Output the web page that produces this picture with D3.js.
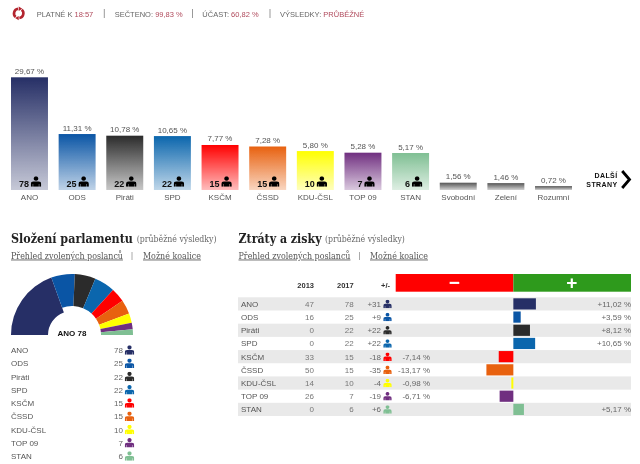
<!DOCTYPE html>
<meta charset="utf-8">
<title>Volby 2017</title>
<script src="https://d3js.org/d3.v7.min.js"></script>
<style>
  body { margin: 0; background: #fff; }
  svg { filter: blur(0.3px); }
  text { font-family: "Liberation Sans", Arial, sans-serif; }
  .serif { font-family: "DejaVu Serif", serif; }
</style>
<div id="my_dataviz"></div>
<script>

// election results
const parties = ["ANO", "ODS", "Piráti", "SPD", "KSČM", "ČSSD", "KDU-ČSL", "TOP 09", "STAN", "Svobodní", "Zelení", "Rozumní"];
const percents = [29.67, 11.31, 10.78, 10.65, 7.77, 7.28, 5.80, 5.28, 5.17, 1.56, 1.46, 0.72];
const seats = [78, 25, 22, 22, 15, 15, 10, 7, 6, 0, 0, 0];

// losses and gains table
const seats2013 = [47, 16, 0, 0, 33, 50, 14, 26, 0];
const seatChange = [31, 9, 22, 22, -18, -35, -4, -19, 6];
const voteChange = [11.02, 3.59, 8.12, 10.65, -7.14, -13.17, -0.98, -6.71, 5.17];

const colors = ["#262f66", "#0a55a5", "#2b2b2b", "#0b66ad", "#ff0000", "#e8610f", "#ffff00", "#702f80", "#7fbf93", "#555555", "#555555", "#555555"];

const fmt = v => v.toFixed(2).replace(".", ",");
const signed = v => (v > 0 ? "+" : "") + fmt(v) + " %";

const svg = d3.select("#my_dataviz")
  .append("svg")
    .attr("width", 640)
    .attr("height", 464)
    .style("display", "block");

const defs = svg.append("defs");

// little person icon used everywhere
defs.append("symbol")
    .attr("id", "person")
    .attr("viewBox", "0 0 10 10")
  .append("path")
    .attr("d", "M5,0a2.2,2.2 0 1,0 0.01,0z M2.4,4.9h5.2q2.4,0 2.4,2.2v2.9h-1.9v-2.6h-0.4v2.6h-5.4v-2.6h-0.4v2.6h-1.9v-2.9q0,-2.2 2.4,-2.2z");

function person(g, x, y, size, color) {
  g.append("use")
    .attr("href", "#person")
    .attr("x", x - size / 2)
    .attr("y", y - size / 2)
    .attr("width", size)
    .attr("height", size)
    .attr("fill", color);
}

// ---- top strip
const strip = svg.append("g");
const red = "#b04a5c";
const stripItems = [
  {x: 36.7, label: "PLATNÉ K ", value: "18:57"},
  {x: 114.7, label: "SEČTENO: ", value: "99,83 %"},
  {x: 202.3, label: "ÚČAST: ", value: "60,82 %"},
  {x: 280, label: "VÝSLEDKY: ", value: "PRŮBĚŽNÉ"}
];
stripItems.forEach(d => {
  const t = strip.append("text").attr("x", d.x).attr("y", 16.5).attr("font-size", 7.5).attr("fill", "#666");
  t.append("tspan").text(d.label);
  t.append("tspan").attr("fill", red).text(d.value);
});
[104.3, 192.5, 270].forEach(x => {
  strip.append("line").attr("x1", x).attr("x2", x).attr("y1", 9).attr("y2", 18).attr("stroke", "#999");
});

// refresh icon
const refresh = svg.append("g").attr("transform", "translate(18.7,13.4)");
const refreshArc = d3.arc().innerRadius(3.4).outerRadius(6);
[[0.7, 3.0], [3.85, 6.15]].forEach(a => {
  refresh.append("path")
    .attr("d", refreshArc({startAngle: a[0], endAngle: a[1]}))
    .attr("fill", "#b3242f");
});
refresh.append("path").attr("d", "M0,-6.9L0,-2.5L3.6,-4.7Z").attr("fill", "#b3242f");
refresh.append("path").attr("d", "M0,6.9L0,2.5L-3.6,4.7Z").attr("fill", "#b3242f");

// ---- bars
const baseline = 190;
const x = d3.scaleBand()
  .domain(parties)
  .range([11, 572])
  .paddingInner(0.224)
  .paddingOuter(0);
// parties with seats get a minimum height so the icon fits, the others are on their own scale
const hSeated = d3.scaleLinear().domain([0, 29.67]).range([21, 112.7]);
const hSmall = d3.scaleLinear().domain([0, 1.56]).range([1, 7.3]);
const barH = i => seats[i] > 0 ? hSeated(percents[i]) : hSmall(percents[i]);

parties.forEach((p, i) => {
  const g = defs.append("linearGradient")
    .attr("id", "grad" + i)
    .attr("x1", 0).attr("x2", 0).attr("y1", 0).attr("y2", 1);
  g.append("stop").attr("offset", "0%").attr("stop-color", colors[i]);
  g.append("stop").attr("offset", "100%").attr("stop-color", colors[i]).attr("stop-opacity", 0.26);
});

const bars = svg.append("g");
parties.forEach((p, i) => {
  const h = barH(i);
  const left = x(p);
  const mid = left + x.bandwidth() / 2;
  bars.append("rect")
    .attr("x", left)
    .attr("y", baseline - h)
    .attr("width", x.bandwidth())
    .attr("height", h)
    .attr("fill", `url(#grad${i})`);
  bars.append("text")
    .attr("x", mid)
    .attr("y", baseline - h - 3.5)
    .attr("text-anchor", "middle")
    .attr("font-size", 8)
    .attr("fill", "#555")
    .text(fmt(percents[i]) + " %");
  bars.append("text")
    .attr("x", mid)
    .attr("y", 199.5)
    .attr("text-anchor", "middle")
    .attr("font-size", 8)
    .attr("fill", "#555")
    .text(p);
  if (seats[i] > 0) {
    bars.append("text")
      .attr("x", left + 18)
      .attr("y", 187)
      .attr("text-anchor", "end")
      .attr("font-size", 9)
      .attr("font-weight", "bold")
      .attr("fill", "#111")
      .text(seats[i]);
    person(bars, left + 25, 181.5, 10.5, "#000");
  }
});

// next parties link
const more = svg.append("g");
["DALŠÍ", "STRANY"].forEach((s, i) => {
  more.append("text")
    .attr("x", 617.5)
    .attr("y", 177.5 + i * 9.5)
    .attr("text-anchor", "end")
    .attr("font-size", 7)
    .attr("font-weight", "bold")
    .attr("letter-spacing", 0.4)
    .attr("fill", "#111")
    .text(s);
});
more.append("path")
  .attr("d", "M622.2,171L629.5,179.5L622.2,188")
  .attr("fill", "none")
  .attr("stroke", "#000")
  .attr("stroke-width", 2.8);

// ---- section headings
// DejaVu Serif is wider than the original face, so squeeze it to the width seen in the picture
function squeezed(g, left, y, size, color, len, str) {
  const t = g.append("text").attr("class", "serif")
    .attr("font-size", size).attr("fill", color)
    .text(str);
  const w = t.node().getComputedTextLength();
  t.attr("transform", `translate(${left},${y}) scale(${len / w},1)`);
  return t;
}
function heading(left, title, titleLen, noteX, sepX, link2X) {
  const g = svg.append("g");
  squeezed(g, left, 242.5, 13.5, "#222", titleLen, title).attr("font-weight", "bold");
  // bold changes the width, so measure again
  const head = g.select("text");
  head.attr("transform", `translate(${left},242.5) scale(${titleLen / head.node().getComputedTextLength()},1)`);
  squeezed(g, noteX, 242, 8.5, "#666", 80, "(průběžné výsledky)");
  squeezed(g, left, 258.5, 8.5, "#555", 112, "Přehled zvolených poslanců").attr("text-decoration", "underline");
  g.append("line")
    .attr("x1", sepX).attr("x2", sepX).attr("y1", 252).attr("y2", 260)
    .attr("stroke", "#aaa");
  squeezed(g, link2X, 258.5, 8.5, "#555", 58, "Možné koalice").attr("text-decoration", "underline");
}
heading(11, "Složení parlamentu", 122, 136.7, 132, 143);
heading(238.5, "Ztráty a zisky", 83, 325, 359.5, 370);

// ---- parliament half donut
const seated = parties.slice(0, 9);
const pie = d3.pie()
  .sort(null)
  .startAngle(-Math.PI / 2)
  .endAngle(Math.PI / 2)
  .value(i => seats[i]);
const arc = d3.arc()
  .outerRadius(61)
  .innerRadius(d => d.data === 0 ? 24 : 29);
const donut = svg.append("g").attr("transform", "translate(72,335)");
donut.selectAll("path")
  .data(pie(d3.range(seated.length)))
  .join("path")
    .attr("d", arc)
    .attr("fill", d => colors[d.data]);
donut.append("text")
  .attr("y", 0.5)
  .attr("text-anchor", "middle")
  .attr("font-size", 8)
  .attr("font-weight", "bold")
  .attr("fill", "#111")
  .text(parties[0] + " " + seats[0]);

// list under the donut
const listY = d3.scalePoint().domain(seated).range([350, 456]);
const list = svg.append("g");
seated.forEach((p, i) => {
  const y = listY(p);
  list.append("text").attr("x", 11).attr("y", y + 3).attr("font-size", 8).attr("fill", "#555").text(p);
  list.append("text").attr("x", 123).attr("y", y + 3).attr("text-anchor", "end").attr("font-size", 8).attr("fill", "#666").text(seats[i]);
  person(list, 129.5, y, 9.5, colors[i]);
});

// ---- losses and gains
const zero = d3.scaleLinear().domain([-57.5, 57.5]).range([395.7, 631]);
const rowY = d3.scaleBand().domain(seated).range([297.3, 416]);
const table = svg.append("g");

table.append("rect").attr("x", zero(-57.5)).attr("y", 274).attr("width", zero(0) - zero(-57.5)).attr("height", 17.7).attr("fill", "#ff0000");
table.append("rect").attr("x", zero(0)).attr("y", 274).attr("width", zero(57.5) - zero(0)).attr("height", 17.7).attr("fill", "#2e9a1c");
[["−", 454.3], ["+", 571.7]].forEach(d => {
  table.append("text")
    .attr("x", d[1]).attr("y", 288.5)
    .attr("text-anchor", "middle")
    .attr("font-size", 19).attr("font-weight", "bold").attr("fill", "#fff")
    .text(d[0]);
});
[["2013", 314], ["2017", 353.7], ["+/-", 390]].forEach(d => {
  table.append("text")
    .attr("x", d[1]).attr("y", 288)
    .attr("text-anchor", "end")
    .attr("font-size", 7.5).attr("font-weight", "bold").attr("fill", "#333")
    .text(d[0]);
});

seated.forEach((p, i) => {
  const top = rowY(p);
  const h = rowY.bandwidth();
  const y = top + h / 2;
  if (i % 2 === 0) {
    table.append("rect").attr("x", 238).attr("y", top).attr("width", 393).attr("height", h).attr("fill", "#e9e9e9");
  }
  table.append("text").attr("x", 241).attr("y", y + 3).attr("font-size", 8).attr("fill", "#555").text(p);
  table.append("text").attr("x", 314).attr("y", y + 3).attr("text-anchor", "end").attr("font-size", 8).attr("fill", "#777").text(seats2013[i]);
  table.append("text").attr("x", 353.7).attr("y", y + 3).attr("text-anchor", "end").attr("font-size", 8).attr("fill", "#777").text(seats[i]);
  table.append("text").attr("x", 381).attr("y", y + 3).attr("text-anchor", "end").attr("font-size", 8).attr("fill", "#666")
    .text((seatChange[i] > 0 ? "+" : "") + seatChange[i]);
  person(table, 387.5, y, 8.5, colors[i]);

  const v = voteChange[i];
  table.append("rect")
    .attr("x", Math.min(zero(0), zero(v)))
    .attr("y", top + 1)
    .attr("width", Math.abs(zero(v) - zero(0)))
    .attr("height", h - 2)
    .attr("fill", colors[i]);
  table.append("text")
    .attr("x", v > 0 ? 631 : 430)
    .attr("y", y + 3)
    .attr("text-anchor", "end")
    .attr("font-size", 8)
    .attr("fill", "#666")
    .text(signed(v));
});
</script>
